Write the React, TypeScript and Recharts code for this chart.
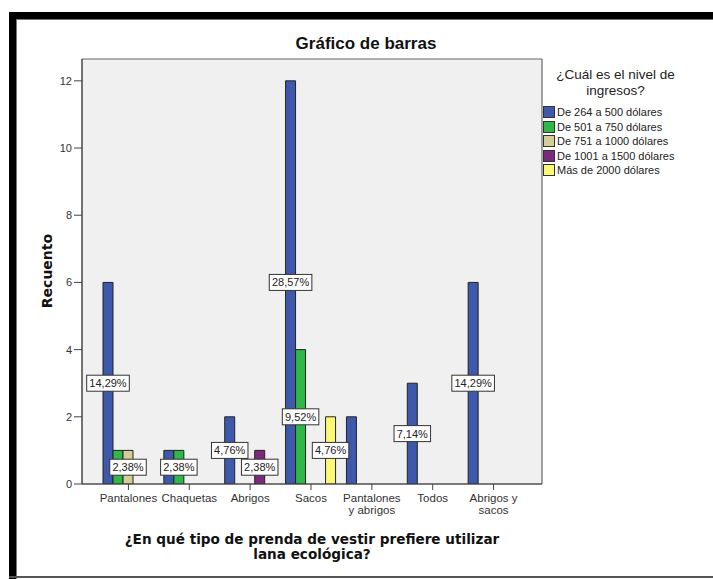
import React from 'react';
import { BarChart, Bar, XAxis, YAxis, CartesianGrid, LabelList } from 'recharts';

const categories = ['Pantalones', 'Chaquetas', 'Abrigos', 'Sacos', 'Pantalones y abrigos', 'Todos', 'Abrigos y sacos'];
const seriesNames = ['De 264 a 500 dólares', 'De 501 a 750 dólares', 'De 751 a 1000 dólares', 'De 1001 a 1500 dólares', 'Más de 2000 dólares'];
const de264a500 = [6, 1, 2, 12, 2, 3, 6];
const de501a750 = [1, 1, 0, 4, 0, 0, 0];
const de751a1000 = [1, 0, 0, 0, 0, 0, 0];
const de1001a1500 = [0, 0, 1, 0, 0, 0, 0];
const mas2000 = [0, 0, 0, 2, 0, 0, 0];
const yTicks = [0, 2, 4, 6, 8, 10, 12];
const hiddenLabels: [string, string][] = [
  ['De 264 a 500 dólares', 'Chaquetas'],
  ['De 264 a 500 dólares', 'Pantalones y abrigos'],
  ['De 501 a 750 dólares', 'Pantalones'],
];

const seriesValues = [de264a500, de501a750, de751a1000, de1001a1500, mas2000];
const colors = ['#3E58AC', '#2EB848', '#D3CE97', '#7C287D', '#FBF873'];
const keys = ['s0', 's1', 's2', 's3', 's4'];

const data = categories.map((c, i) => {
  const row: any = { categoria: c };
  seriesValues.forEach((arr, s) => { row[keys[s]] = arr[i]; });
  return row;
});
const total = seriesValues.reduce((a, arr) => a + arr.reduce((b, v) => b + v, 0), 0);

const FONT = '"Liberation Sans", Arial, sans-serif';
const BOLDFONT = '"DejaVu Sans", Verdana, sans-serif';

const wrap = (s: string, max = 10) => {
  const words = s.split(' ');
  const lines: string[] = [];
  let cur = '';
  words.forEach((w) => {
    const cand = cur ? cur + ' ' + w : w;
    if (cand.length > max && cur) { lines.push(cur); cur = w; } else cur = cand;
  });
  if (cur) lines.push(cur);
  return lines;
};

const XTick = (props: any) => {
  const { x, y, payload } = props;
  const lines = wrap(String(payload.value));
  return (
    <text x={x} y={y} textAnchor="middle" fontSize={11.5} fill="#333" fontFamily={FONT}>
      {lines.map((l, i) => (
        <tspan key={i} x={x} dy={i === 0 ? '0.71em' : 12}>{l}</tspan>
      ))}
    </text>
  );
};

const makeLabel = (series: string) => (props: any) => {
  const { x, y, width, height, value, index } = props;
  if (!value) return null;
  const cat = categories[index];
  if (hiddenLabels.some(([s, c]) => s === series && c === cat)) return null;
  const txt = ((value / total) * 100).toFixed(2).replace('.', ',') + '%';
  const cx = Number(x) + Number(width) / 2;
  const cy = Number(y) + Number(height) / 2;
  const w = txt.length * 6.1 + 6;
  const h = 16;
  return (
    <g>
      <rect x={cx - w / 2} y={cy - h / 2} width={w} height={h} fill="#ffffff" stroke="#333" strokeWidth={1} />
      <text x={cx} y={cy} dy="0.36em" textAnchor="middle" fontSize={11} fill="#222" fontFamily={FONT}>{txt}</text>
    </g>
  );
};

export default function App() {
  return (
    <div style={{ position: 'absolute', left: 0, top: 0, width: 713, height: 579, background: '#fff', fontFamily: FONT, overflow: 'hidden' }}>
      {/* frame */}
      <div style={{ position: 'absolute', left: 9, top: 12, width: 704, height: 7, background: '#000' }} />
      <div style={{ position: 'absolute', left: 9, top: 12, width: 7, height: 567, background: '#000' }} />
      <div style={{ position: 'absolute', left: 16, top: 19, width: 697, height: 1, background: '#777' }} />
      <div style={{ position: 'absolute', left: 16, top: 19, width: 1, height: 560, background: '#777' }} />
      <div style={{ position: 'absolute', left: 9, top: 576, width: 704, height: 2, background: '#555' }} />

      <div style={{ position: 'absolute', left: 216, top: 34, width: 300, textAlign: 'center', fontSize: 17, lineHeight: '20px', fontWeight: 'bold', color: '#111' }}>
        Gráfico de barras
      </div>

      <div style={{ position: 'absolute', left: 0, top: 0 }}>
        <BarChart
          width={713}
          height={579}
          data={data}
          margin={{ top: 59, right: 171, bottom: 65, left: 52 }}
          barSize={10}
          barGap={0}
        >
          <CartesianGrid
            fill="#f0f0f0"
            stroke="#666"
            strokeWidth={1.2}
            horizontalCoordinatesGenerator={(p: any) => [p.offset.top, p.offset.top + p.offset.height]}
            verticalCoordinatesGenerator={(p: any) => [p.offset.left, p.offset.left + p.offset.width]}
          />
          <XAxis
            dataKey="categoria"
            height={30}
            interval={0}
            padding={{ left: 16, right: 18 }}
            tick={<XTick />}
            tickSize={6}
            tickMargin={4}
            axisLine={{ stroke: '#444' }}
            tickLine={{ stroke: '#444' }}
          />
          <YAxis
            width={30}
            domain={[0, 12.65]}
            ticks={yTicks}
            allowDataOverflow
            tickSize={8}
            tickMargin={2}
            tick={{ fontSize: 11, fill: '#333', fontFamily: FONT }}
            axisLine={{ stroke: '#444' }}
            tickLine={{ stroke: '#444' }}
          />
          {keys.map((k, s) => (
            <Bar key={k} dataKey={k} name={seriesNames[s]} fill={colors[s]} stroke="#222" strokeWidth={1} isAnimationActive={false}>
              <LabelList dataKey={k} content={makeLabel(seriesNames[s])} />
            </Bar>
          ))}
        </BarChart>
      </div>

      <div style={{ position: 'absolute', left: -13, top: 261, width: 120, height: 20, lineHeight: '20px', textAlign: 'center', transform: 'rotate(-90deg)', fontSize: 14, fontWeight: 'bold', color: '#111', fontFamily: BOLDFONT }}>
        Recuento
      </div>

      <div style={{ position: 'absolute', left: 82, top: 532, width: 460, textAlign: 'center', fontSize: 13.6, lineHeight: '15px', fontWeight: 'bold', color: '#111', fontFamily: BOLDFONT }}>
        ¿En qué tipo de prenda de vestir prefiere utilizar<br />lana ecológica?
      </div>

      <div style={{ position: 'absolute', left: 538, top: 67, width: 155, color: '#222' }}>
        <div style={{ textAlign: 'center', fontSize: 13.5, lineHeight: '16px' }}>
          ¿Cuál es el nivel de<br />ingresos?
        </div>
        <div style={{ marginTop: 6 }}>
          {seriesNames.map((n, s) => (
            <div key={n} style={{ display: 'flex', alignItems: 'center', height: 14.5, fontSize: 11 }}>
              <div style={{ width: 10, height: 10, marginLeft: 5, marginRight: 2, background: colors[s], border: '1px solid #333' }} />
              <span>{n}</span>
            </div>
          ))}
        </div>
      </div>
    </div>
  );
}
